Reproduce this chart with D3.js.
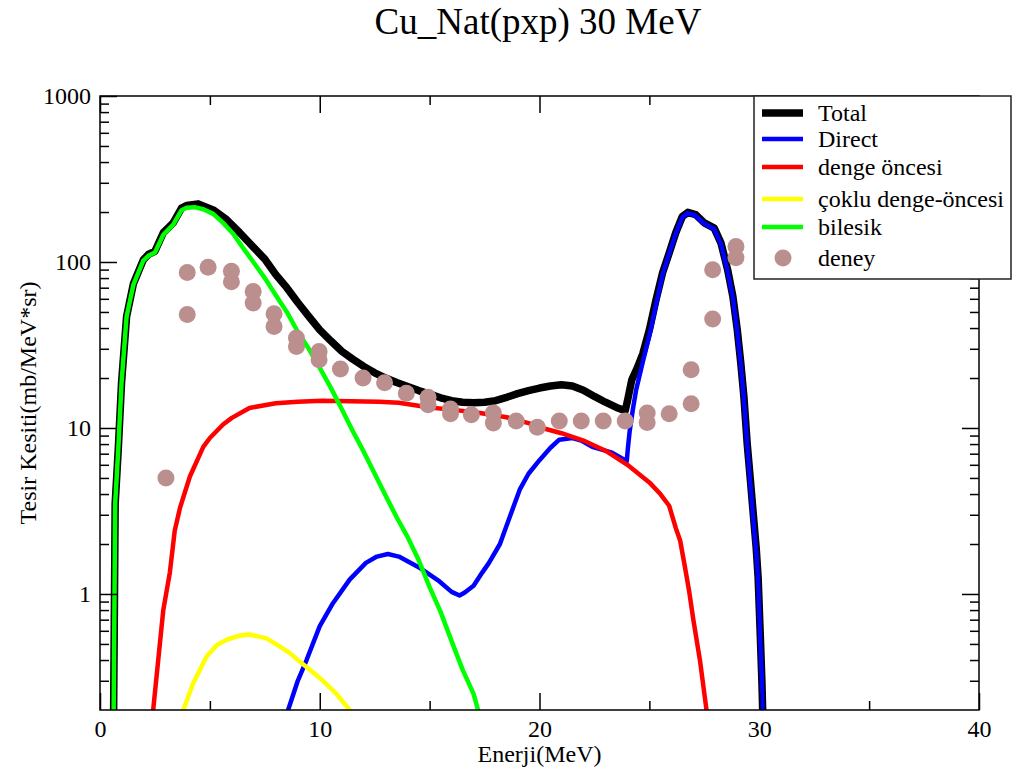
<!DOCTYPE html>
<html>
<head>
<meta charset="utf-8">
<script src="https://cdnjs.cloudflare.com/ajax/libs/d3/7.8.5/d3.min.js"></script>
<style>
	body { margin: 0; background: #fff; }
	text { font-family: "Liberation Serif", "Times New Roman", serif; fill: #000; }
</style>
</head>
<body>
<div id="chart"></div>
<script>
// series: [energy (MeV), cross section]

var totalData = [[0.58,0.15],[0.62,0.2],[0.66,1.0],[0.69,3.5],[0.83,7.4],[0.98,18.7],[1.21,47],[1.52,74],[1.97,103],[2.2,111],[2.5,116],[2.88,150],[3.33,172],[3.71,211],[3.94,219],[4.47,224],[5.15,206],[5.76,180],[6.36,150],[7.0,122],[7.5,104],[8.0,84],[8.5,70],[9.0,57],[9.5,47],[10.0,39],[10.5,33.5],[11.0,29],[11.5,26],[12.0,23.5],[12.5,21.5],[13.0,20],[13.5,18.8],[14.0,17.8],[14.5,16.8],[15.0,16],[15.5,15.2],[16.0,14.6],[16.5,14.3],[17.0,14.2],[17.5,14.3],[18.0,14.6],[18.5,15.3],[19.0,16.1],[19.5,16.8],[20.0,17.4],[20.5,17.9],[21.0,18.2],[21.5,17.9],[22.0,16.9],[22.5,15.5],[23.0,14.3],[23.5,13.3],[23.9,12.7],[24.0,14.5],[24.2,19.5],[24.45,23],[24.7,28],[25.0,39],[25.3,59],[25.6,86],[25.9,113],[26.2,150],[26.5,188],[26.75,199],[27.1,193],[27.5,172],[27.95,160],[28.26,130],[28.56,90],[28.8,62],[29.0,39],[29.16,24.6],[29.3,15.5],[29.45,8.1],[29.6,4.8],[29.75,2.8],[29.86,1.9],[29.95,1.25],[30.05,0.55],[30.12,0.3],[30.18,0.15]];

var directData = [[8.5,0.18],[8.56,0.2],[9.0,0.3],[9.4,0.4],[10.0,0.64],[10.6,0.88],[11.36,1.22],[12.1,1.54],[12.6,1.68],[13.1,1.74],[13.6,1.68],[14.5,1.45],[15.45,1.19],[16.0,1.03],[16.36,0.98],[16.6,1.02],[17.0,1.12],[17.4,1.35],[17.7,1.54],[18.2,2.0],[18.6,2.8],[19.1,4.25],[19.5,5.3],[20.0,6.4],[20.5,7.6],[20.9,8.5],[21.5,8.7],[21.9,8.4],[22.4,7.7],[23.3,7.1],[23.9,6.4],[23.97,6.3],[24.02,7.5],[24.1,9.5],[24.25,13],[24.4,17],[24.7,25],[25.0,36],[25.3,55],[25.6,84],[25.9,112],[26.2,148],[26.5,186],[26.75,197],[27.1,190],[27.5,170],[27.95,158],[28.26,128],[28.56,88],[28.8,61],[29.0,38],[29.16,24],[29.3,15],[29.45,8],[29.6,4.5],[29.75,2.6],[29.86,1.8],[29.95,1.2],[30.05,0.5],[30.12,0.3],[30.17,0.15]];

var dengeData = [[2.38,0.18],[2.42,0.2],[2.65,0.4],[2.88,0.8],[3.18,1.35],[3.4,2.4],[3.64,3.3],[4.09,5.1],[4.7,7.7],[5.0,8.7],[5.6,10.5],[6.0,11.5],[6.8,13.2],[8.0,14.1],[9.0,14.4],[10.1,14.6],[11.4,14.5],[12.7,14.4],[13.6,14.2],[15.0,13.3],[16.0,12.9],[17.3,12.3],[18.5,11.6],[19.5,10.7],[20.0,10.1],[21.0,9.3],[22.0,8.4],[23.0,7.3],[24.0,6.0],[25.0,4.7],[25.5,4.0],[25.9,3.4],[26.2,2.5],[26.4,2.1],[26.6,1.5],[26.8,1.06],[27.0,0.7],[27.3,0.4],[27.6,0.2],[27.65,0.18]];

var cokluData = [[3.75,0.18],[3.79,0.2],[4.24,0.29],[4.85,0.42],[5.3,0.49],[5.76,0.53],[6.3,0.56],[6.8,0.57],[7.58,0.54],[8.1,0.49],[8.64,0.44],[9.1,0.39],[9.55,0.35],[10.15,0.3],[10.76,0.25],[11.36,0.2],[11.42,0.19]];

var bilesikData = [[0.62,0.18],[0.66,1.0],[0.69,3.5],[0.83,7.4],[0.98,18.7],[1.21,47],[1.52,73],[1.97,102],[2.2,109],[2.5,114],[2.88,146],[3.33,168],[3.71,205],[3.94,212],[4.3,214],[4.7,208],[5.15,195],[5.6,172],[6.06,148],[6.5,122],[7.0,99],[7.5,80],[8.0,63],[8.5,50],[9.0,38],[9.5,30],[10.0,23],[10.5,17.5],[11.0,13],[11.5,9.6],[12.0,7.2],[12.5,5.3],[13.0,3.9],[13.5,2.9],[14.0,2.2],[14.5,1.6],[15.0,1.1],[15.5,0.78],[16.0,0.52],[16.5,0.35],[17.0,0.25],[17.3,0.18]];

var deneyData = [[3.0,5.0],[3.97,86.5],[3.97,48.2],[4.92,93],[5.98,88],[5.98,76],[6.97,66.5],[6.97,56.7],[7.92,48.7],[7.92,40.9],[8.94,34.8],[8.94,31],[9.97,28.9],[9.97,25.8],[10.94,22.7],[11.97,20.0],[12.95,18.7],[13.94,16.2],[14.93,15.3],[14.93,13.8],[15.95,13.0],[15.95,12.2],[16.9,12.0],[17.9,12.3],[17.9,10.7],[18.94,11.0],[19.9,10.1],[20.9,11.0],[21.9,11.0],[22.9,11.0],[23.9,11.0],[24.9,12.3],[24.9,10.8],[25.9,12.2],[26.9,22.4],[26.9,14.0],[27.88,45.4],[27.88,89.9],[28.94,124],[28.94,106]];

// ticks
var xTicks = [0, 10, 20, 30, 40];
var xMinorTicks = [5, 15, 25, 35];
var yTicks = [1, 10, 100, 1000];
var yMinorTicks = [0.3,0.4,0.5,0.6,0.7,0.8,0.9, 2,3,4,5,6,7,8,9, 20,30,40,50,60,70,80,90, 200,300,400,500,600,700,800,900];

var legendLabels = ["Total", "Direct", "denge öncesi", "çoklu denge-öncesi", "bilesik", "deney"];

// define SVG area
var svgWidth = 1016;
var svgHeight = 771;

var plot = { left: 100, right: 979, top: 96, bottom: 710 };

var svg = d3.select("#chart")
	.append("svg")
	.attr("width", svgWidth)
	.attr("height", svgHeight);

// scales
var xScale = d3.scaleLinear()
	.domain([0, 40])
	.range([plot.left, plot.right]);

var yScale = d3.scaleLog()
	.domain([0.2, 1000])
	.range([plot.bottom, plot.top]);

svg.append("clipPath")
	.attr("id", "plotClip")
	.append("rect")
	.attr("x", plot.left)
	.attr("y", plot.top)
	.attr("width", plot.right - plot.left)
	.attr("height", plot.bottom - plot.top);

// curves, black total first so the components sit on top of it
var series = [
	{ data: totalData, color: "#000000", width: 7.5 },
	{ data: directData, color: "#0000ff", width: 4.5 },
	{ data: dengeData, color: "#ff0000", width: 4.5 },
	{ data: cokluData, color: "#ffff00", width: 4.5 },
	{ data: bilesikData, color: "#00ff00", width: 4.5 }
];

var line = d3.line()
	.x(d => xScale(d[0]))
	.y(d => yScale(d[1]));

var curveGroup = svg.append("g")
	.attr("clip-path", "url(#plotClip)");

curveGroup.selectAll("path")
	.data(series)
	.enter()
	.append("path")
	.attr("d", d => line(d.data))
	.attr("fill", "none")
	.attr("stroke", d => d.color)
	.attr("stroke-width", d => d.width)
	.attr("stroke-linejoin", "round");

// experimental points
curveGroup.selectAll("circle")
	.data(deneyData)
	.enter()
	.append("circle")
	.attr("cx", d => xScale(d[0]))
	.attr("cy", d => yScale(d[1]))
	.attr("r", 8.5)
	.attr("fill", "#bc8f8f");

// axes, ticks pointing inwards
function styleAxis(g) {
	g.attr("font-family", null).attr("font-size", null);
	g.select(".domain").remove();
	g.selectAll("line").attr("stroke", "#000").attr("stroke-width", 1.5);
	g.selectAll("text")
		.style("font-size", "24px")
		.attr("fill", "#000");
}

svg.append("g")
	.attr("transform", `translate(0, ${plot.bottom})`)
	.call(d3.axisBottom(xScale).tickValues(xTicks).tickSize(-17).tickPadding(10).tickFormat(d3.format("d")))
	.call(styleAxis);

svg.append("g")
	.attr("transform", `translate(0, ${plot.bottom})`)
	.call(d3.axisBottom(xScale).tickValues(xMinorTicks).tickSize(-9).tickFormat(""))
	.call(styleAxis);

svg.append("g")
	.attr("transform", `translate(0, ${plot.top})`)
	.call(d3.axisTop(xScale).tickValues(xTicks).tickSize(-17).tickFormat(""))
	.call(styleAxis);

svg.append("g")
	.attr("transform", `translate(0, ${plot.top})`)
	.call(d3.axisTop(xScale).tickValues(xMinorTicks).tickSize(-9).tickFormat(""))
	.call(styleAxis);

svg.append("g")
	.attr("transform", `translate(${plot.left}, 0)`)
	.call(d3.axisLeft(yScale).tickValues(yTicks).tickSize(-17).tickPadding(9).tickFormat(d3.format("d")))
	.call(styleAxis);

svg.append("g")
	.attr("transform", `translate(${plot.left}, 0)`)
	.call(d3.axisLeft(yScale).tickValues(yMinorTicks).tickSize(-9).tickFormat(""))
	.call(styleAxis);

svg.append("g")
	.attr("transform", `translate(${plot.right}, 0)`)
	.call(d3.axisRight(yScale).tickValues(yTicks).tickSize(-17).tickFormat(""))
	.call(styleAxis);

svg.append("g")
	.attr("transform", `translate(${plot.right}, 0)`)
	.call(d3.axisRight(yScale).tickValues(yMinorTicks).tickSize(-9).tickFormat(""))
	.call(styleAxis);

// frame
svg.append("rect")
	.attr("x", plot.left)
	.attr("y", plot.top)
	.attr("width", plot.right - plot.left)
	.attr("height", plot.bottom - plot.top)
	.attr("fill", "none")
	.attr("stroke", "#000")
	.attr("stroke-width", 1.5);

// title and axis labels
svg.append("text")
	.attr("x", 538)
	.attr("y", 34)
	.attr("text-anchor", "middle")
	.style("font-size", "37px")
	.text("Cu_Nat(pxp) 30 MeV");

svg.append("text")
	.attr("x", (plot.left + plot.right) / 2)
	.attr("y", 762)
	.attr("text-anchor", "middle")
	.style("font-size", "24px")
	.text("Enerji(MeV)");

svg.append("text")
	.attr("transform", `translate(36, ${(plot.top + plot.bottom) / 2}) rotate(-90)`)
	.attr("text-anchor", "middle")
	.style("font-size", "24px")
	.text("Tesir Kesiti(mb/MeV*sr)");

// legend
var legendBox = { x: 754, y: 96, w: 257, h: 183 };
var legendRows = [113, 139, 167, 199, 227, 258];
var legendColors = ["#000000", "#0000ff", "#ff0000", "#ffff00", "#00ff00", "#bc8f8f"];
var legendWidths = [7.5, 4.5, 4.5, 4.5, 4.5, 0];

var legend = svg.append("g");

legend.append("rect")
	.attr("x", legendBox.x)
	.attr("y", legendBox.y)
	.attr("width", legendBox.w)
	.attr("height", legendBox.h)
	.attr("fill", "#fff")
	.attr("stroke", "#222")
	.attr("stroke-width", 1.5);

legendLabels.forEach(function(label, i) {
	if (i < 5) {
		legend.append("line")
			.attr("x1", 762)
			.attr("x2", 803)
			.attr("y1", legendRows[i])
			.attr("y2", legendRows[i])
			.attr("stroke", legendColors[i])
			.attr("stroke-width", legendWidths[i]);
	} else {
		legend.append("circle")
			.attr("cx", 783)
			.attr("cy", legendRows[i])
			.attr("r", 8.5)
			.attr("fill", legendColors[i]);
	}
	legend.append("text")
		.attr("x", 818)
		.attr("y", legendRows[i] + 8)
		.style("font-size", "24px")
		.text(label);
});
</script>
</body>
</html>
